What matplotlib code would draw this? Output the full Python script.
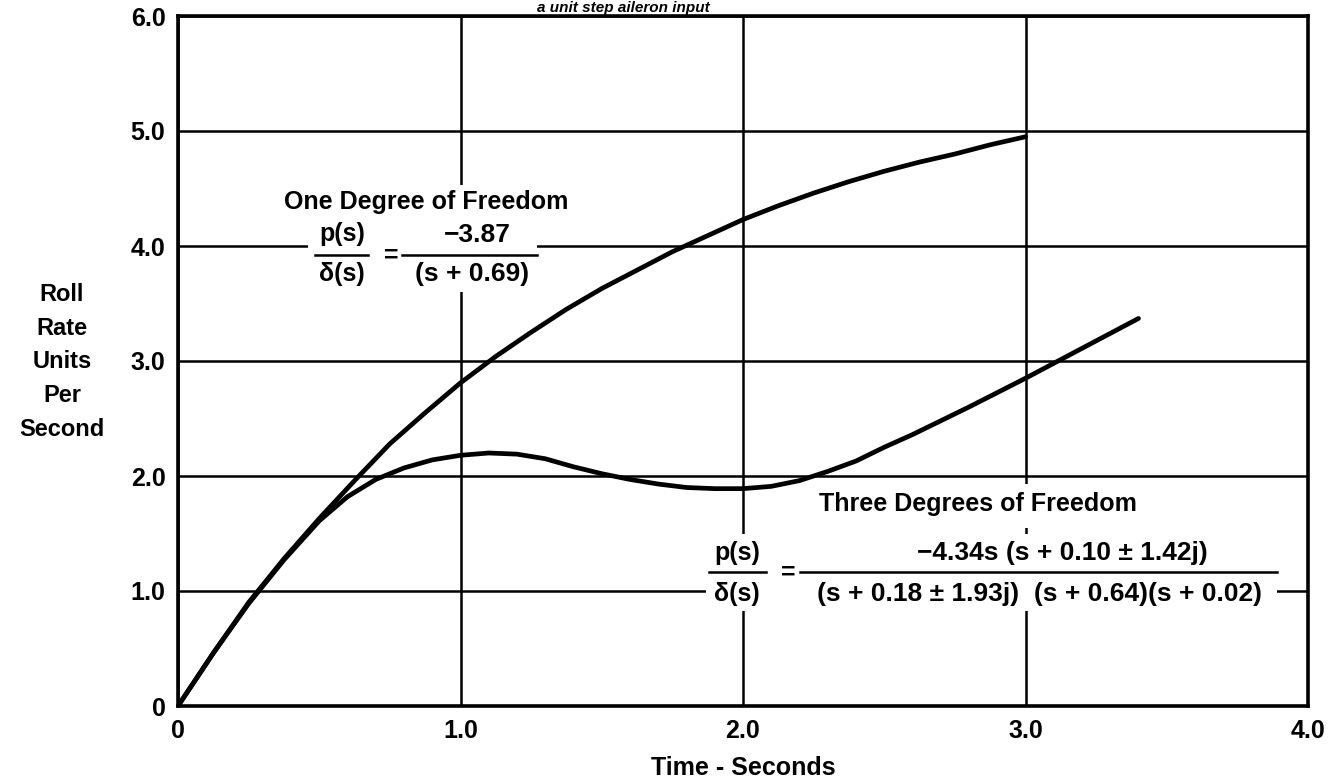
import matplotlib.pyplot as plt
from matplotlib.patches import Rectangle

# values
t_one = [0, 0.125, 0.25, 0.375, 0.5, 0.625, 0.75, 0.875, 1.0, 1.125, 1.25,
         1.375, 1.5, 1.625, 1.75, 1.875, 2.0, 2.125, 2.25, 2.375, 2.5,
         2.625, 2.75, 2.875, 3.0]
p_one = [0, 0.46, 0.90, 1.28, 1.63, 1.96, 2.28, 2.55, 2.81, 3.04, 3.25,
         3.45, 3.63, 3.79, 3.95, 4.09, 4.23, 4.35, 4.46, 4.56, 4.65,
         4.73, 4.80, 4.88, 4.95]

t_three = [0, 0.125, 0.25, 0.375, 0.5, 0.6, 0.7, 0.8, 0.9, 1.0, 1.1, 1.2,
           1.3, 1.4, 1.5, 1.6, 1.7, 1.8, 1.9, 2.0, 2.1, 2.2, 2.3, 2.4, 2.5,
           2.6, 2.8, 3.0, 3.2, 3.4]
p_three = [0, 0.46, 0.89, 1.27, 1.61, 1.82, 1.97, 2.07, 2.14, 2.18, 2.20,
           2.19, 2.15, 2.08, 2.02, 1.97, 1.93, 1.90, 1.89, 1.89, 1.91, 1.96,
           2.04, 2.13, 2.25, 2.36, 2.60, 2.85, 3.11, 3.37]

x_ticks = [0, 1, 2, 3, 4]
x_labels = ["0", "1.0", "2.0", "3.0", "4.0"]
y_ticks = [0, 1, 2, 3, 4, 5, 6]
y_labels = ["0", "1.0", "2.0", "3.0", "4.0", "5.0", "6.0"]

plt.rcParams['font.family'] = ['Liberation Sans', 'DejaVu Sans']
plt.rcParams['font.weight'] = 'bold'
plt.rcParams['axes.labelweight'] = 'bold'

fig = plt.figure(figsize=(13.44, 7.83), dpi=100)
ax = fig.add_axes([178 / 1344, 77 / 783, 1130 / 1344, 690 / 783])

ax.set_xlim(0, 4)
ax.set_ylim(0, 6)
ax.set_xticks(x_ticks)
ax.set_xticklabels(x_labels)
ax.set_yticks(y_ticks)
ax.set_yticklabels(y_labels)
ax.tick_params(length=0, labelsize=18, pad=9)
ax.set_axisbelow(True)
ax.grid(True, color='black', linewidth=1.8)
for sp in ax.spines.values():
    sp.set_linewidth(2.6)

ax.plot(t_one, p_one, color='black', linewidth=3.4, zorder=3,
        solid_capstyle='round', solid_joinstyle='round')
ax.plot(t_three, p_three, color='black', linewidth=3.4, zorder=3,
        solid_capstyle='round', solid_joinstyle='round')

# white patches that break the grid behind the annotations
for x0, y0, w, h in [(0.46, 3.60, 0.81, 0.93),
                     (1.87, 0.83, 2.02, 0.67),
                     (2.25, 1.55, 1.25, 0.38)]:
    ax.add_patch(Rectangle((x0, y0), w, h, facecolor='white',
                           edgecolor='none', zorder=2))

kw = dict(ha='center', va='center', fontsize=18, zorder=4)
eq = dict(ha='center', va='center', fontsize=19, zorder=4)

# one degree of freedom
ax.text(0.88, 4.38, "One Degree of Freedom", **kw)
ax.text(0.58, 4.10, "p(s)", **kw)
ax.text(0.58, 3.76, "\u03b4(s)", **kw)
ax.text(0.755, 3.92, "=", **kw)
ax.text(1.06, 4.10, "\u22123.87", **eq)
ax.text(1.04, 3.76, "(s + 0.69)", **eq)
ax.plot([0.485, 0.673], [3.92, 3.92], color='black', lw=1.8, zorder=4)
ax.plot([0.793, 1.271], [3.92, 3.92], color='black', lw=1.8, zorder=4)

# three degrees of freedom
ax.text(2.83, 1.76, "Three Degrees of Freedom", **kw)
ax.text(1.98, 1.33, "p(s)", **kw)
ax.text(1.98, 0.97, "\u03b4(s)", **kw)
ax.text(2.16, 1.16, "=", **kw)
ax.text(3.13, 1.33, "\u22124.34s (s + 0.10 \u00b1 1.42j)", **eq)
ax.text(3.05, 0.97, "(s + 0.18 \u00b1 1.93j)  (s + 0.64)(s + 0.02)", **eq)
ax.plot([1.88, 2.08], [1.165, 1.165], color='black', lw=1.8, zorder=4)
ax.plot([2.20, 3.89], [1.165, 1.165], color='black', lw=1.8, zorder=4)

ax.set_xlabel("Time - Seconds", fontsize=18, labelpad=10)
fig.text(62 / 1344, 1 - 362 / 783, "Roll\nRate\nUnits\nPer\nSecond",
         ha='center', va='center', multialignment='center',
         fontsize=17, linespacing=1.6)

# title fragment at the top of the scan
fig.text(623 / 1344, 1 - 1 / 783, "a unit step aileron input",
         ha='center', va='top', fontsize=11, style='italic')

fig.savefig("out.png", dpi=100)
